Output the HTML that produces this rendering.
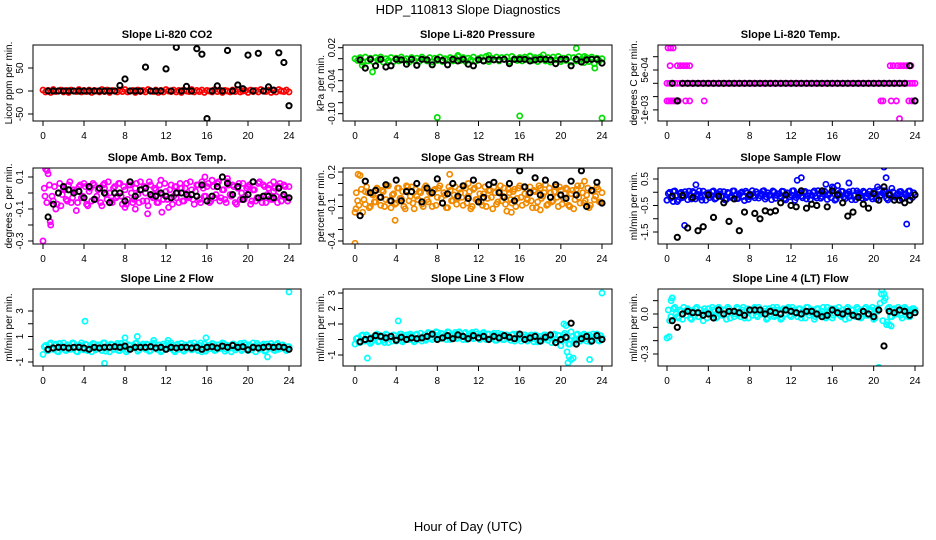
<!DOCTYPE html>
<html><head><meta charset="utf-8">
<style>
html,body{margin:0;padding:0;background:#fff;}
svg{display:block;font-family:"Liberation Sans",Arial,sans-serif;}
</style></head>
<body>
<svg id="chart" width="936" height="540" viewBox="0 0 936 540" xmlns="http://www.w3.org/2000/svg">
<text x="468" y="14" text-anchor="middle" font-size="13">HDP_110813  Slope Diagnostics</text>
<text x="468" y="531" text-anchor="middle" font-size="13">Hour of Day (UTC)</text>
</svg>
<script>
// ---- shared x categories ----
const xTicks = [0,4,8,12,16,20,24];
const blackHours = [0.5,1,1.5,2,2.5,3,3.5,4,4.5,5,5.5,6,6.5,7,7.5,8,8.5,9,9.5,10,10.5,11,11.5,12,12.5,13,13.5,14,14.5,15,15.5,16,16.5,17,17.5,18,18.5,19,19.5,20,20.5,21,21.5,22,22.5,23,23.5,24];
const colorStep = 0.25;
const colorStep2Offset = 0.125;

// ---- CO2 ----
const co2Color = [2,-2,1,-3,3,-1,0,2,-2,1,-3,2,0,-1,3,-2,1,-1,2,-3,1,0,-2,3,-1,2,-3,1,0,-2,2,-1,3,-2,0,1,-3,2,-1,1,-2,3,0,-1,2,-3,1,-2,3,0,-1,2,-2,1,-3,2,0,-1,3,-2,1,-1,2,-3,1,0,-2,3,-1,2,-3,1,0,-2,2,-1,3,-2,0,1,-3,2,-1,1,-2,3,0,-1,2,-3,1,-2,3,0,-1,2,-2];
const co2Color2 = [];
const co2OutH = [];
const co2OutV = [];
const co2Black = [0,0,0,0,0,0,0,0,0,0,0,0,0,0,12,26,0,0,0,52,0,0,0,48,0,95,0,10,0,92,80,-60,0,11,0,88,0,13,5,78,0,82,0,9,2,83,62,-32];
const co2Ticks = [-50,0,50];
const co2Labels = ["-50","0","50"];

// ---- Pressure ----
const presColor = [0.000,-0.003,0.002,-0.006,0.003,-0.004,0.001,-0.005,0.002,-0.002,0.003,-0.006,0.000,-0.003,0.002,-0.005,0.001,-0.004,0.003,-0.002,0.000,-0.006,0.002,-0.003,0.001,-0.005,0.003,-0.001,-0.004,0.002,-0.006,0.001,-0.003,0.003,-0.005,0.000,-0.002,0.002,-0.004,0.001,0.004,-0.003,0.002,-0.005,0.001,-0.002,0.003,-0.004,0.000,0.002,-0.003,0.004,-0.005,0.001,-0.002,0.003,-0.004,0.002,-0.001,0.003,-0.005,0.004,0.000,-0.003,0.002,-0.004,0.003,-0.001,0.004,-0.003,0.002,-0.005,0.003,0.000,-0.004,0.002,-0.006,0.003,-0.002,0.004,-0.005,0.001,-0.003,0.003,-0.006,0.002,-0.004,0.004,-0.001,-0.007,0.002,-0.005,0.003,-0.009,0.001,-0.004,0.000];
const presColor2 = [];
const presOutH = [0.7,1.7,8.0,10.0,13.0,16.0,17.0,18.3,21.5,22.3,23.3,24.0];
const presOutV = [-0.012,-0.024,-0.107,0.006,0.006,-0.104,0.005,0.007,0.019,0.004,-0.017,-0.108];
const presBlack = [-0.002,-0.017,-0.001,-0.013,-0.001,-0.015,-0.013,-0.001,-0.002,-0.010,-0.001,-0.012,-0.001,-0.002,-0.011,-0.001,-0.003,-0.011,-0.001,-0.004,-0.001,-0.010,-0.013,-0.002,-0.004,-0.001,-0.002,-0.002,-0.001,-0.009,-0.001,-0.001,-0.001,-0.004,-0.002,-0.001,-0.001,-0.002,-0.009,-0.001,-0.001,-0.013,-0.001,-0.006,-0.002,-0.001,-0.001,-0.008];
const presTicks = [0.02,0,-0.02,-0.04,-0.06,-0.08,-0.10];
const presLabels = ["0.02","","","-0.04","","","-0.10"];

// ---- Li-820 Temp ----
const tempColor = [0,0,0,0,0,0,0,0,0,0,0,0,0,0,0,0,0,0,0,0,0,0,0,0,0,0,0,0,0,0,0,0,0,0,0,0,0,0,0,0,0,0,0,0,0,0,0,0,0,0,0,0,0,0,0,0,0,0,0,0,0,0,0,0,0,0,0,0,0,0,0,0,0,0,0,0,0,0,0,0,0,0,0,0,0,0,0,0,0,0,0,0,0,0,0,0,0];
const tempColor2 = [];
const tempOutH = [0.1,0.35,0.6,0.3,1.0,1.3,1.6,1.9,2.2,0.0,0.2,0.4,0.6,0.8,1.1,1.8,2.2,3.6,20.7,20.9,21.6,21.9,22.3,22.6,22.9,23.2,23.6,21.7,22.2,23.4,23.7,24.0,22.5];
const tempOutV = [0.00133,0.00133,0.00133,0.00066,0.00066,0.00066,0.00066,0.00066,0.00066,-0.00066,-0.00066,-0.00066,-0.00066,-0.00066,-0.00066,-0.00066,-0.00066,-0.00066,-0.00066,-0.00066,0.00066,0.00066,0.00066,0.00066,0.00066,0.00066,0.00066,-0.00066,-0.00066,-0.00066,-0.00066,-0.00066,-0.00133];
const tempBlack = [0,-0.00066,0,0,0,0,0,0,0,0,0,0,0,0,0,0,0,0,0,0,0,0,0,0,0,0,0,0,0,0,0,0,0,0,0,0,0,0,0,0,0,0,0,0,0,0,0.00066,-0.00066];
const tempTicks = [0.001,0.0005,0,-0.0005,-0.001];
const tempLabels = ["","5e-04","","","-1e-03"];

// ---- Amb Box Temp ----
const ambColor = [-0.30,0.15,0.12,-0.20,-0.05,-0.10,0.00,-0.08,0.03,-0.04,0.05,-0.06,0.02,-0.11,0.04,-0.03,0.06,-0.07,0.01,-0.05,0.05,-0.02,0.03,-0.08,0.06,-0.04,0.00,-0.06,0.04,-0.02,0.06,-0.07,0.02,-0.04,0.05,-0.06,0.03,-0.01,0.07,-0.05,0.00,-0.08,0.05,-0.03,0.02,-0.06,0.08,-0.04,0.01,-0.09,0.05,-0.02,0.04,-0.06,0.03,-0.05,0.06,-0.03,0.02,-0.07,0.05,-0.04,0.07,-0.02,0.04,-0.06,0.08,-0.03,0.06,-0.05,0.02,-0.04,0.07,-0.01,0.05,-0.06,0.03,-0.04,0.06,-0.02,0.04,-0.07,0.02,-0.05,0.06,-0.03,0.05,-0.06,0.03,-0.04,0.07,-0.02,0.04,-0.05,0.05,-0.03,0.04];
const ambColor2 = [0.03,-0.06,0.05,-0.02,0.04,-0.07,0.06,-0.01,0.02,-0.05,0.07,-0.03,0.01,-0.06,0.05,-0.02,0.04,-0.08,0.03,0.06,-0.04,0.02,-0.06,0.05,-0.01,0.07,-0.05,0.03,-0.03,0.06,-0.02,0.04,-0.07,0.05,0.00,-0.04,0.06,-0.06,0.02,0.04,-0.05,0.07,-0.02,0.03,-0.06,0.05,-0.01,0.06,-0.04,0.02,-0.07,0.04,0.00,0.06,-0.05,0.03,-0.02,0.07,-0.04,0.01,0.05,-0.06,0.03,-0.02,0.06,-0.05,0.04,-0.01,0.07,-0.03,0.02,-0.06,0.05,-0.02,0.04,-0.07,0.06,0.00,-0.04,0.03,0.05,-0.05,0.02,-0.03,0.07,-0.06,0.04,-0.01,0.05,-0.04,0.03,-0.06,0.06,-0.02,0.04,-0.05];
const ambOutH = [0.4,0.7,0.2,10.2,11.6,8.0,9.0,15.8,18.0,3.0,6.0,13.0,20.5,22.5];
const ambOutV = [0.14,-0.18,-0.02,-0.13,-0.12,-0.09,-0.10,0.10,0.09,0.02,0.03,-0.03,0.02,0.01];
const ambBlack = [-0.15,-0.07,0.00,0.04,0.02,0.00,0.01,-0.03,0.04,-0.04,0.03,0.00,-0.06,0.00,0.00,-0.05,0.07,-0.02,0.02,0.03,-0.01,-0.02,0.00,-0.02,-0.03,0.00,0.00,-0.01,-0.01,-0.02,0.05,-0.05,-0.02,0.04,0.10,0.06,-0.01,0.04,-0.04,-0.01,0.07,-0.03,-0.02,-0.02,-0.03,0.03,-0.01,-0.03];
const ambTicks = [0.1,0,-0.1,-0.2,-0.3];
const ambLabels = ["0.1","","-0.1","","-0.3"];

// ---- Gas Stream RH ----
const rhColor = [-0.42,-0.05,0.17,-0.15,-0.08,0.02,-0.10,0.00,-0.06,0.05,-0.09,0.03,-0.04,0.08,-0.11,0.01,-0.07,0.06,-0.03,-0.10,0.04,-0.05,0.07,-0.12,-0.01,0.03,-0.08,0.06,-0.04,0.02,-0.10,0.05,-0.02,0.08,-0.07,0.00,-0.11,0.04,-0.05,0.07,-0.03,0.02,-0.09,0.06,-0.01,-0.12,0.05,-0.04,0.08,-0.06,0.01,-0.10,0.04,-0.02,0.07,-0.08,0.03,-0.05,0.06,-0.14,0.02,-0.07,0.05,-0.03,0.08,-0.09,0.01,-0.04,0.07,-0.11,0.03,-0.06,0.06,-0.01,0.09,-0.08,0.02,-0.05,0.07,-0.10,0.04,-0.03,0.06,-0.09,0.01,-0.12,0.05,-0.02,0.08,-0.07,0.00,-0.11,0.04,-0.04,0.07,-0.06,0.02];
const rhColor2 = [0.02,-0.09,0.05,-0.04,0.07,-0.11,0.01,-0.06,0.06,-0.02,0.04,-0.10,0.08,-0.05,0.00,-0.08,0.06,-0.03,0.03,-0.12,0.07,-0.01,-0.07,0.05,-0.04,0.02,-0.10,0.08,-0.06,0.01,0.04,-0.09,0.06,-0.03,0.02,-0.11,0.07,-0.05,0.00,-0.08,0.05,-0.02,0.08,-0.07,0.03,-0.10,0.06,-0.04,0.01,-0.09,0.07,-0.03,0.04,-0.12,0.02,-0.06,0.08,-0.01,-0.08,0.05,-0.04,0.03,-0.10,0.06,-0.02,0.07,-0.07,0.01,-0.05,0.04,-0.11,0.08,-0.03,0.02,-0.09,0.06,-0.06,0.03,-0.02,0.07,-0.08,0.01,0.05,-0.10,0.04,-0.04,0.08,-0.07,0.02,-0.05,0.06,-0.09,0.03,-0.01,0.05,-0.06];
const rhOutH = [0.0,0.1,0.3,3.9,9.2,15.2,22.3,1.0,5.0,11.0,18.0];
const rhOutV = [-0.15,-0.12,0.18,-0.22,0.18,-0.15,0.12,0.03,0.08,0.10,-0.13];
const rhBlack = [-0.18,0.12,0.02,0.04,-0.02,0.09,-0.05,0.13,-0.05,0.03,0.03,0.10,-0.06,0.06,0.02,0.14,-0.07,0.01,0.10,-0.01,0.08,-0.03,0.13,-0.06,-0.02,0.09,0.11,0.02,-0.02,0.10,-0.05,0.21,0.07,0.02,0.15,0.00,0.13,-0.02,0.09,0.00,-0.03,0.12,0.00,0.21,-0.10,0.04,0.11,-0.07];
const rhTicks = [0.2,0.1,0,-0.1,-0.2,-0.3,-0.4];
const rhLabels = ["0.2","","","-0.1","","","-0.4"];

// ---- Sample Flow ----
const sfColor = [-0.30,0.00,-0.15,0.05,-0.35,-0.05,-0.20,0.02,-0.28,-0.10,0.03,-0.25,-0.08,-0.18,0.04,-0.30,-0.02,-0.12,0.05,-0.22,-0.06,-0.16,0.02,-0.27,-0.04,-0.14,0.05,-0.24,-0.09,0.01,-0.31,-0.03,-0.17,0.06,-0.21,-0.07,-0.13,0.04,-0.26,-0.02,-0.11,0.05,-0.23,-0.06,-0.15,0.03,-0.29,-0.04,-0.10,0.06,-0.20,-0.08,-0.14,0.02,-0.25,-0.03,-0.12,0.05,-0.22,-0.07,-0.16,0.04,-0.27,-0.05,0.20,-0.30,0.25,-0.10,0.03,-0.24,-0.06,-0.15,0.05,-0.28,-0.02,-0.12,0.04,-0.21,-0.08,-0.17,0.03,-0.26,0.10,-0.11,0.06,-0.23,-0.04,0.15,-0.30,-0.09,0.02,-0.25,-0.06,-0.14,0.05,-0.20,-0.10];
const sfColor2 = [-0.05,-0.22,0.03,-0.12,-0.28,0.00,-0.18,-0.08,0.04,-0.25,-0.02,-0.15,0.05,-0.30,-0.10,-0.04,-0.20,0.02,-0.26,-0.07,0.03,-0.14,-0.29,-0.01,-0.19,0.05,-0.11,-0.24,-0.03,-0.16,0.04,-0.27,-0.08,-0.13,0.02,-0.22,-0.05,0.06,-0.18,-0.10,-0.28,0.01,-0.12,-0.06,0.04,-0.24,-0.02,-0.17,0.05,-0.30,-0.09,-0.03,-0.21,0.03,-0.13,-0.27,0.00,-0.15,0.06,-0.23,-0.05,0.30,-0.11,-0.20,0.15,-0.26,-0.04,0.04,-0.18,-0.09,0.02,-0.28,-0.12,0.05,-0.06,-0.22,-0.01,-0.16,0.04,-0.25,-0.07,0.20,-0.14,-0.03,0.05,-0.29,-0.10,0.01,-0.19,-0.05,0.03,-0.23,-0.08,0.04,-0.15,-0.02];
const sfOutH = [1.7,2.8,21.0,21.2,23.2,0.0,0.6,12.6,13.0,17.6];
const sfOutV = [-1.25,0.28,0.95,0.55,-1.2,-0.3,-0.35,0.45,0.55,0.35];
const sfBlack = [-0.15,-1.7,-0.12,-1.35,-0.2,-1.45,-1.3,-0.1,-0.95,-0.15,-0.4,-1.1,-0.25,-1.45,-0.75,-0.1,-0.8,-1.0,-0.7,-0.75,-0.7,-0.4,-0.1,-0.5,-0.55,0.05,-0.6,-0.45,-0.5,0.05,-0.55,0.05,-0.1,-0.4,-0.9,-0.75,-0.2,-0.45,-0.6,-0.05,-0.3,0.2,-0.1,-0.3,-0.3,-0.4,-0.3,-0.1];
const sfTicks = [0.5,0,-0.5,-1,-1.5];
const sfLabels = ["0.5","","-0.5","","-1.5"];

// ---- Line 2 Flow ----
const l2Color = [-0.4,0.3,-0.1,0.5,0.0,0.4,-0.2,0.2,0.5,-0.1,0.3,0.0,0.45,-0.15,0.25,0.5,-0.05,0.35,0.1,-0.2,0.4,0.05,0.3,-0.1,0.5,0.15,-0.2,0.35,0.0,0.45,-0.1,0.25,0.5,-0.05,0.3,0.1,0.45,-0.15,0.2,0.4,0.0,0.35,-0.1,0.5,0.15,0.3,-0.2,0.4,0.05,0.25,0.5,-0.1,0.3,0.0,0.45,-0.15,0.2,0.35,-0.05,0.5,0.1,0.3,-0.2,0.4,0.0,0.25,0.45,-0.1,0.35,0.05,0.5,-0.15,0.3,0.1,0.4,-0.05,0.2,0.45,0.0,0.35,-0.1,0.25,0.5,-0.2,0.3,0.05,0.4,-0.1,0.2,0.45,-0.05,0.35,0.0,0.3,0.15,-0.1,0.2];
const l2Color2 = [0.2,-0.1,0.4,0.05,0.3,-0.15,0.45,0.1,-0.05,0.35,0.0,0.5,0.15,-0.2,0.3,0.05,0.4,-0.1,0.25,0.45,-0.05,0.35,0.1,0.5,-0.15,0.2,0.4,0.0,0.3,-0.1,0.45,0.15,-0.2,0.35,0.05,0.25,0.5,-0.05,0.3,0.1,0.4,-0.15,0.2,0.45,0.0,0.35,-0.1,0.25,0.5,0.05,0.3,-0.2,0.4,0.15,-0.05,0.35,0.1,0.45,0.0,0.25,-0.1,0.5,0.2,-0.15,0.3,0.05,0.4,-0.05,0.35,0.15,0.45,0.0,0.25,-0.2,0.4,0.1,0.3,-0.1,0.5,0.05,0.35,-0.05,0.2,0.45,0.0,0.3,-0.15,0.4,0.1,0.25,-0.1,0.45,0.05,0.35,0.0,0.2];
const l2OutH = [4.1,6.0,8.0,9.2,10.8,15.9,24.0,12.2,21.9];
const l2OutV = [2.2,-1.1,0.9,1.0,0.7,0.9,4.5,0.7,-0.6];
const l2Black = [0.0,0.1,0.15,0.15,0.1,0.15,0.15,0.1,0.0,0.15,0.1,0.15,0.15,0.2,0.15,0.25,0.0,0.15,0.15,0.15,0.2,0.1,0.15,0.0,0.15,0.1,0.15,0.15,0.1,0.15,0.0,0.15,0.2,0.1,0.25,0.15,0.3,0.15,0.2,-0.05,0.15,0.1,0.15,0.2,0.15,0.2,0.15,0.0];
const l2Ticks = [3,2,1,0,-1];
const l2Labels = ["3","","1","","-1"];

// ---- Line 3 Flow ----
const l3Color = [-0.3,0.1,-0.2,0.3,-0.1,0.2,-0.25,0.15,0.3,-0.15,0.25,-0.05,0.35,-0.2,0.1,0.3,-0.1,0.2,0.35,-0.05,0.3,0.0,0.25,-0.15,0.35,0.1,-0.1,0.3,0.05,0.4,0.0,0.3,0.45,0.05,0.35,0.15,0.5,0.0,0.3,0.45,0.1,0.4,0.0,0.45,0.2,0.35,0.05,0.5,0.15,0.3,0.45,0.0,0.35,0.1,0.4,-0.05,0.25,0.35,0.0,0.3,0.1,0.3,-0.1,0.35,0.05,0.2,0.3,-0.1,0.25,0.05,0.3,-0.15,0.2,0.1,0.3,-0.05,0.15,0.3,-0.2,0.25,-0.4,0.3,0.9,-0.3,0.5,-0.2,0.3,0.0,0.2,0.35,-0.1,0.3,0.0,0.2,0.35,-0.1,0.1];
const l3Color2 = [0.05,-0.2,0.25,-0.05,0.3,0.0,-0.15,0.2,0.35,-0.1,0.15,-0.2,0.3,0.05,-0.1,0.25,0.0,0.35,-0.15,0.2,0.1,0.35,-0.05,0.3,0.0,0.4,0.15,-0.05,0.45,0.1,0.3,0.5,0.05,0.4,0.2,0.0,0.45,0.15,0.35,0.05,0.5,0.2,0.4,0.0,0.3,0.45,0.1,0.35,0.0,0.4,0.2,0.35,0.05,0.3,-0.05,0.4,0.15,0.0,0.3,0.2,-0.05,0.35,0.1,0.25,-0.1,0.3,0.15,0.0,0.3,-0.15,0.25,0.05,-0.1,0.3,0.1,0.2,-0.2,0.35,0.0,0.25,-0.1,0.4,0.1,-0.3,0.2,0.0,0.35,-0.1,0.3,0.05,0.2,-0.15,0.35,0.1,-0.05,0.25];
const l3OutH = [1.2,4.2,20.3,20.6,20.7,21.0,21.2,22.8,24.0,20.8];
const l3OutV = [-1.2,1.2,1.0,-0.8,-1.5,-1.3,-1.2,-1.3,3.0,-1.1];
const l3Black = [-0.15,0.0,0.05,0.25,0.2,0.1,0.2,-0.05,0.15,0.0,0.1,0.05,0.1,0.2,0.35,0.0,0.1,0.25,0.05,0.3,0.2,0.05,0.25,0.1,0.2,0.0,0.2,0.1,0.25,0.15,0.05,0.35,0.0,0.1,0.2,-0.1,0.15,0.3,-0.2,0.0,0.15,1.05,-0.3,0.05,0.2,-0.1,0.25,0.0];
const l3Ticks = [3,2,1,0,-1];
const l3Labels = ["3","2","1","","-1"];

// ---- Line 4 (LT) Flow ----
const l4Color = [-0.18,-0.05,0.12,0.05,-0.02,0.03,-0.04,0.02,0.04,-0.03,0.01,0.04,-0.02,0.03,-0.05,0.02,0.04,-0.01,0.03,-0.03,0.05,0.00,0.03,-0.04,0.04,0.01,-0.02,0.05,0.00,0.03,-0.03,0.04,0.02,-0.01,0.05,-0.02,0.03,0.01,0.04,-0.03,0.02,0.05,-0.01,0.03,-0.04,0.04,0.00,0.05,-0.02,0.03,0.01,0.04,-0.03,0.02,0.05,-0.01,0.03,-0.04,0.04,0.00,0.02,-0.02,0.05,0.01,-0.03,0.04,0.02,-0.01,0.03,-0.04,0.05,0.00,0.03,-0.02,0.04,-0.03,0.02,0.05,-0.01,0.03,-0.04,0.04,-0.40,0.15,0.10,-0.08,0.05,-0.02,0.04,0.00,0.03,-0.03,0.05,0.01,-0.02,0.04,0.03];
const l4Color2 = [0.03,-0.02,0.04,0.00,-0.03,0.02,0.05,-0.01,0.03,-0.04,0.02,0.05,-0.02,0.01,0.04,-0.03,0.00,0.05,0.02,-0.02,0.04,-0.01,0.03,0.05,-0.03,0.02,0.00,0.04,-0.02,0.05,0.01,-0.03,0.03,0.04,-0.01,0.05,0.00,0.02,-0.04,0.04,0.03,-0.02,0.05,0.01,-0.03,0.03,0.04,-0.01,0.05,0.00,-0.02,0.04,0.02,-0.03,0.05,0.01,0.03,-0.02,0.04,0.00,0.05,-0.03,0.02,0.04,-0.01,0.03,0.05,-0.02,0.01,0.04,-0.03,0.03,0.00,0.05,0.02,-0.02,0.04,-0.01,0.03,0.05,-0.03,0.02,0.08,-0.05,0.12,0.04,-0.02,0.03,0.00,0.05,-0.01,0.03,0.04,-0.02,0.02,0.04];
const l4OutH = [0.2,0.4,0.5,20.8,21.0,21.3,21.5,21.7];
const l4OutV = [-0.17,0.10,0.12,0.18,0.15,-0.06,-0.08,-0.09];
const l4Black = [-0.05,-0.10,0.00,0.02,0.01,0.01,-0.01,0.00,-0.03,0.03,0.00,0.02,0.02,0.01,-0.01,0.03,0.03,0.03,0.00,0.02,0.01,0.00,0.03,0.02,0.01,0.00,0.02,0.02,0.00,-0.02,-0.01,0.03,0.01,0.00,0.02,-0.01,-0.02,0.02,0.00,-0.02,0.03,-0.24,0.02,0.01,0.03,0.02,-0.01,0.01];
const l4Ticks = [0.1,0,-0.1,-0.2,-0.3];
const l4Labels = ["","0.0","","","-0.3"];

// ---- layout (not data) ----
const cols = [{l:33,r:301,x0:43,x24:289,yl:8,tl:19},{l:343,r:612,x0:355,x24:602,yl:320,tl:331},{l:658,r:923,x0:667,x24:915,yl:633,tl:644}];
const rows = [{t:45,b:121},{t:168,b:244},{t:289,b:366}];
const panels = [
 {name:"co2",title:"Slope Li-820 CO2",ylab:"Licor ppm per min.",c:0,r:0,color:"#ff0000",v1:50,p1:68,v2:0,p2:91,col:co2Color,col2:co2Color2,oh:co2OutH,ov:co2OutV,blk:co2Black,ticks:co2Ticks,labels:co2Labels},
 {name:"pressure",title:"Slope Li-820 Pressure",ylab:"kPa per min.",c:1,r:0,color:"#00e000",v1:0.02,p1:47.7,v2:-0.10,p2:113.7,col:presColor,col2:presColor2,oh:presOutH,ov:presOutV,blk:presBlack,ticks:presTicks,labels:presLabels},
 {name:"li820-temp",title:"Slope Li-820 Temp.",ylab:"degrees C per min.",c:2,r:0,color:"#ff00ff",v1:0.0005,p1:70,v2:0,p2:83.3,col:tempColor,col2:tempColor2,oh:tempOutH,ov:tempOutV,blk:tempBlack,ticks:tempTicks,labels:tempLabels},
 {name:"amb-box-temp",title:"Slope Amb. Box Temp.",ylab:"degrees C per min.",c:0,r:1,color:"#ff00ff",v1:0.1,p1:177,v2:-0.1,p2:209,col:ambColor,col2:ambColor2,oh:ambOutH,ov:ambOutV,blk:ambBlack,ticks:ambTicks,labels:ambLabels},
 {name:"gas-stream-rh",title:"Slope Gas Stream RH",ylab:"percent per min.",c:1,r:1,color:"#f08a00",v1:0.2,p1:172,v2:-0.4,p2:241,col:rhColor,col2:rhColor2,oh:rhOutH,ov:rhOutV,blk:rhBlack,ticks:rhTicks,labels:rhLabels},
 {name:"sample-flow",title:"Slope Sample Flow",ylab:"ml/min per min.",c:2,r:1,color:"#0000ff",v1:0.5,p1:179,v2:-1.5,p2:232,col:sfColor,col2:sfColor2,oh:sfOutH,ov:sfOutV,blk:sfBlack,ticks:sfTicks,labels:sfLabels},
 {name:"line2-flow",title:"Slope Line 2 Flow",ylab:"ml/min per min.",c:0,r:2,color:"#00ffff",v1:3,p1:311,v2:-1,p2:362,col:l2Color,col2:l2Color2,oh:l2OutH,ov:l2OutV,blk:l2Black,ticks:l2Ticks,labels:l2Labels},
 {name:"line3-flow",title:"Slope Line 3 Flow",ylab:"ml/min per min.",c:1,r:2,color:"#00ffff",v1:3,p1:293,v2:-1,p2:355,col:l3Color,col2:l3Color2,oh:l3OutH,ov:l3OutV,blk:l3Black,ticks:l3Ticks,labels:l3Labels},
 {name:"line4-flow",title:"Slope Line 4 (LT) Flow",ylab:"ml/min per min.",c:2,r:2,color:"#00ffff",v1:0,p1:314,v2:-0.3,p2:354,col:l4Color,col2:l4Color2,oh:l4OutH,ov:l4OutV,blk:l4Black,ticks:l4Ticks,labels:l4Labels}
];

const NS = "http://www.w3.org/2000/svg";
const svg = document.getElementById("chart");
function mk(tag, attrs, parent){
  const e = document.createElementNS(NS, tag);
  for (const k in attrs) e.setAttribute(k, attrs[k]);
  parent.appendChild(e);
  return e;
}
function circle(g, x, y, color, sw, name){
  const c = mk("circle", {cx:x.toFixed(1), cy:y.toFixed(1), r:2.6, fill:"none", stroke:color, "stroke-width":sw}, g);
  
  
}

panels.forEach(p => {
  const C = cols[p.c], R = rows[p.r];
  const xs = h => C.x0 + (h/24)*(C.x24 - C.x0);
  const ys = v => p.p1 + (v - p.v1)*(p.p2 - p.p1)/(p.v2 - p.v1);
  const g = mk("g", {}, svg);
  
  
  const clip = mk("clipPath", {id:"clip-"+p.name}, g);
  mk("rect", {x:C.l, y:R.t, width:C.r-C.l, height:R.b-R.t}, clip);
  const pts = mk("g", {"clip-path":"url(#clip-"+p.name+")"}, g);
  
  
  p.col.forEach((v,i) => circle(pts, xs(i*colorStep), ys(v), p.color, 1.7, p.name + '-color-point'));
  p.col2.forEach((v,i) => circle(pts, xs(i*colorStep + colorStep2Offset), ys(v), p.color, 1.7, p.name + '-color-point-b'));
  p.oh.forEach((h,i) => circle(pts, xs(h), ys(p.ov[i]), p.color, 1.7, p.name + '-color-outlier'));
  p.blk.forEach((v,i) => circle(pts, xs(blackHours[i]), ys(v), "#000", 2, p.name + '-black-point'));
  const box = mk("rect", {x:C.l, y:R.t, width:C.r-C.l, height:R.b-R.t, fill:"none", stroke:"#000", "stroke-width":1}, g);
  
  
  const t = mk("text", {x:(C.l+C.r)/2, y:R.t-7, "text-anchor":"middle", "font-size":11, "font-weight":"bold"}, g);
  t.textContent = p.title;
  
  
  const xa = mk("g", {}, g);
  
  
  mk("line", {x1:xs(xTicks[0]), x2:xs(xTicks[xTicks.length-1]), y1:R.b, y2:R.b, stroke:"#000"}, xa);
  xTicks.forEach(tk => {
    mk("line", {x1:xs(tk), x2:xs(tk), y1:R.b, y2:R.b+5, stroke:"#000"}, xa);
    const tl = mk("text", {x:xs(tk), y:R.b+18, "text-anchor":"middle", "font-size":10}, xa);
    tl.textContent = String(tk);
    
    
  });
  const ya = mk("g", {}, g);
  
  
  const yv = p.ticks.map(ys);
  mk("line", {x1:C.l, x2:C.l, y1:Math.min(...yv), y2:Math.max(...yv), stroke:"#000"}, ya);
  p.ticks.forEach((tk,i) => {
    const y = ys(tk);
    mk("line", {x1:C.l-5, x2:C.l, y1:y, y2:y, stroke:"#000"}, ya);
    if (p.labels[i]) {
      const tl = mk("text", {x:C.tl+4, y:y, "text-anchor":"middle", "font-size":10, transform:"rotate(-90 "+(C.tl+4)+" "+y+")"}, ya);
      tl.textContent = p.labels[i];
      
      
    }
  });
  const my = (R.t+R.b)/2;
  const yl = mk("text", {x:C.yl+4, y:my, "text-anchor":"middle", "font-size":10, transform:"rotate(-90 "+(C.yl+4)+" "+my+")"}, g);
  yl.textContent = p.ylab;
  
  
});
</script>
</body></html>
